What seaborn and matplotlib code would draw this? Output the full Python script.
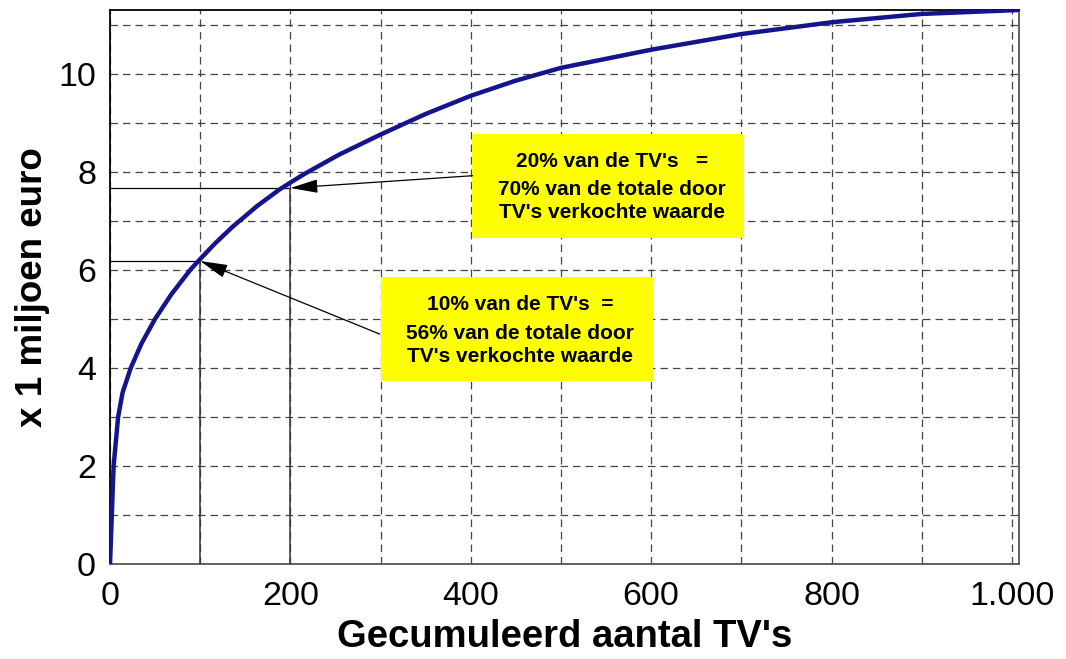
import numpy as np
import pandas as pd
import matplotlib
matplotlib.use("Agg")
import matplotlib.pyplot as plt
from matplotlib.patches import Rectangle
from matplotlib.ticker import MultipleLocator, FixedLocator, FixedFormatter
import seaborn as sns

# cumulative TV count vs cumulative value (x 1 million euro)
tv_count = [0, 1, 2, 4, 9, 14, 23, 35, 50, 68, 89, 100, 116, 136, 163, 188, 200,
            215, 254, 300, 350, 400, 450, 500, 600, 700, 800, 900, 1007]
cum_value = [0, 0.5, 1.0, 2.0, 3.0, 3.5, 4.0, 4.5, 5.0, 5.5, 6.0, 6.22, 6.53, 6.88,
             7.3, 7.64, 7.78, 7.95, 8.35, 8.76, 9.18, 9.55, 9.86, 10.12, 10.49, 10.81,
             11.05, 11.22, 11.3]

# reference points marked on the curve
guide_x = [100, 200]
guide_y = [6.18, 7.67]

x_ticks = [0, 200, 400, 600, 800, 1000]
x_tick_labels = ["0", "200", "400", "600", "800", "1.000"]
y_ticks = [0, 2, 4, 6, 8, 10]

box_lines = [
    ["10% van de TV's  =", "56% van de totale door", "TV's verkochte waarde"],
    ["20% van de TV's   =", "70% van de totale door", "TV's verkochte waarde"],
]


def main():
    sns.set_style("white")
    plt.rcParams["font.family"] = ["Liberation Sans", "DejaVu Sans"]
    plt.rcParams["text.color"] = "black"
    plt.rcParams["axes.labelcolor"] = "black"
    plt.rcParams["xtick.color"] = "black"
    plt.rcParams["ytick.color"] = "black"

    df = pd.DataFrame({"tvs": tv_count, "value": cum_value})

    fig = plt.figure(figsize=(10.66, 6.59), dpi=100)
    ax = fig.add_axes([0.1032, 0.1442, 0.8528, 0.8406])

    sns.lineplot(data=df, x="tvs", y="value", ax=ax, color="#14148c",
                 linewidth=3.2, zorder=4)

    ax.set_xlim(0, 1008)
    ax.set_ylim(0, 11.3)

    # dashed grid every 100 TV's and every 1 million
    ax.xaxis.set_major_locator(FixedLocator(x_ticks))
    ax.xaxis.set_major_formatter(FixedFormatter(x_tick_labels))
    ax.xaxis.set_minor_locator(MultipleLocator(100))
    ax.yaxis.set_major_locator(FixedLocator(y_ticks))
    ax.yaxis.set_minor_locator(MultipleLocator(1))
    ax.grid(which="both", color="#444444", linestyle=(0, (6, 4)), linewidth=0.9)
    ax.set_axisbelow(True)

    ax.tick_params(which="both", length=0, labelsize=24.5)
    ax.tick_params(axis="x", pad=12)
    ax.tick_params(axis="y", pad=10)

    for side in ["top", "left"]:
        ax.spines[side].set_color("black")
        ax.spines[side].set_linewidth(1.3)
    for side in ["right", "bottom"]:
        ax.spines[side].set_color("#555555")
        ax.spines[side].set_linewidth(1.3)

    ax.set_xlabel("Gecumuleerd aantal TV's", fontsize=27.5, fontweight="bold", labelpad=5)
    ax.set_ylabel("x 1 miljoen euro", fontsize=26.5, fontweight="bold", labelpad=6)

    # thin guide lines from the axes to the marked points
    for gx, gy in zip(guide_x, guide_y):
        ax.plot([0, gx], [gy, gy], color="black", linewidth=0.9, zorder=3)
        ax.plot([gx, gx], [0, gy], color="#333333", linewidth=1.1, zorder=3)

    # yellow explanation boxes: (x0, y0, width, height) in data units
    boxes = [(300, 3.73, 302, 2.13), (401, 6.65, 302, 2.13)]
    text_x = [455, 557]
    text_rows = [[5.29, 4.71, 4.24], [8.21, 7.63, 7.16]]
    tails = [(299, 4.69), (402, 7.92)]
    for i, (bx, by, bw, bh) in enumerate(boxes):
        ax.add_patch(Rectangle((bx, by), bw, bh, facecolor="#ffff00",
                               edgecolor="none", zorder=5))
        for line, ty in zip(box_lines[i], text_rows[i]):
            ax.text(text_x[i], ty, line, ha="center", va="center",
                    fontsize=15, fontweight="bold", zorder=6)
        ax.annotate("", xy=(guide_x[i], guide_y[i]), xytext=tails[i],
                    arrowprops=dict(arrowstyle="-|>,head_length=1.7,head_width=0.42",
                                    color="black", linewidth=0.9,
                                    shrinkA=0, shrinkB=0),
                    zorder=6)

    fig.savefig("out.png", dpi=100)


if __name__ == "__main__":
    main()
